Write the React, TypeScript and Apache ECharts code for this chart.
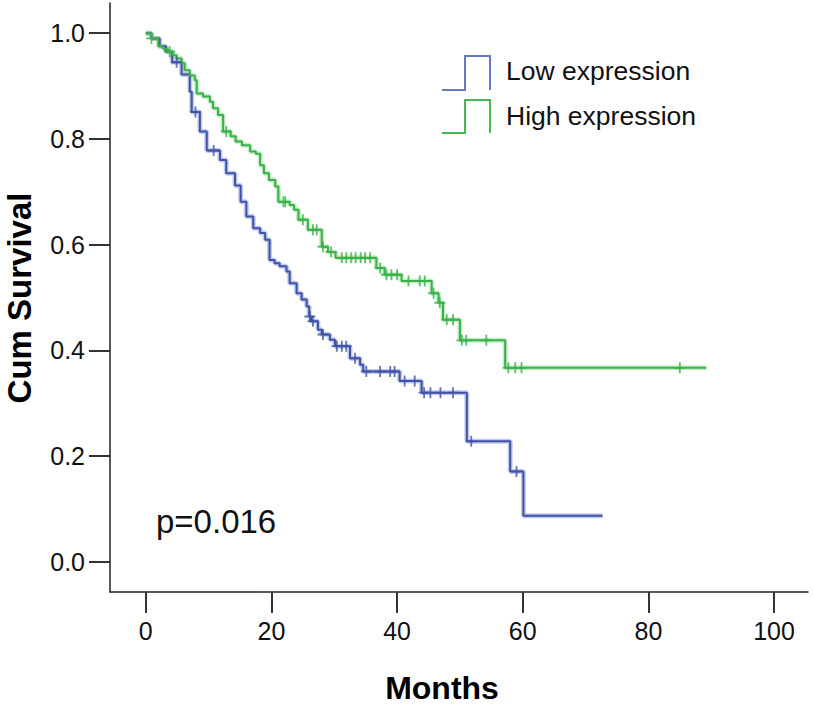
import React, { useEffect, useRef } from "react";
import * as echarts from "echarts";

// Kaplan-Meier step points (time in months, cumulative survival)
const lowTimes = [0, 0.9, 2.2, 3.2, 4.2, 5.7, 7.0, 7.3, 8.6, 9.7, 11.8, 12.8, 14.2, 15.1, 16.0, 17.1, 18.2, 19.0, 19.7, 20.5, 21.3, 22.4, 22.9, 24.0, 24.8, 25.6, 26.0, 26.3, 27.4, 28.0, 29.3, 30.1, 32.5, 34.1, 34.6, 40.4, 43.9, 51.1, 58.0, 60.1, 72.7];
const lowSurv = [1.0, 0.99, 0.975, 0.965, 0.945, 0.922, 0.889, 0.851, 0.814, 0.778, 0.76, 0.735, 0.712, 0.681, 0.653, 0.631, 0.622, 0.609, 0.571, 0.565, 0.559, 0.549, 0.527, 0.508, 0.496, 0.483, 0.464, 0.455, 0.439, 0.43, 0.42, 0.408, 0.385, 0.373, 0.36, 0.342, 0.32, 0.228, 0.171, 0.087, 0.087];
const lowCensored = [4.9, 7.9, 10.8, 26.1, 26.6, 28.2, 30.4, 31.2, 31.9, 33.3, 35.1, 37.3, 38.9, 39.6, 41.2, 42.8, 44.3, 45.3, 46.9, 48.9, 51.8, 59.0];

const highTimes = [0, 0.9, 2.0, 2.8, 3.5, 4.3, 4.9, 5.7, 6.2, 7.0, 7.8, 8.1, 9.1, 10.2, 10.7, 11.5, 12.3, 13.5, 14.3, 15.3, 16.6, 17.5, 18.2, 18.8, 19.6, 20.6, 21.1, 22.9, 23.6, 24.3, 25.8, 28.0, 29.0, 30.2, 36.7, 38.0, 40.7, 45.5, 46.6, 47.3, 50.0, 57.2, 89.2];
const highSurv = [1.0, 0.99, 0.975, 0.97, 0.965, 0.958, 0.952, 0.943, 0.93, 0.92, 0.911, 0.886, 0.88, 0.87, 0.858, 0.845, 0.814, 0.805, 0.795, 0.788, 0.776, 0.772, 0.75, 0.735, 0.722, 0.71, 0.681, 0.675, 0.666, 0.647, 0.628, 0.596, 0.586, 0.575, 0.556, 0.543, 0.531, 0.508, 0.49, 0.458, 0.419, 0.367, 0.367];
const highCensored = [0.9, 3.8, 12.8, 21.9, 22.2, 25.0, 26.6, 27.2, 28.2, 29.5, 31.2, 31.9, 32.7, 33.4, 34.2, 34.9, 35.7, 37.3, 38.3, 39.1, 40.0, 41.8, 43.6, 44.4, 45.8, 46.8, 47.9, 48.9, 50.3, 51.0, 54.2, 57.7, 58.8, 59.8, 85.0];

const xTicks = [0, 20, 40, 60, 80, 100];
const yTicks = [0, 0.2, 0.4, 0.6, 0.8, 1.0];
const groupNames = ["Low expression", "High expression"];
const pValueText = "p=0.016";

const BLUE = "#3e52a6";
const BLUE_HALO = "rgba(120,138,210,0.45)";
const BLUE_LEGEND = "#6678c2";
const GREEN = "#37b246";
const GREEN_HALO = "rgba(120,205,125,0.4)";
const GREEN_LEGEND = "#45b954";

const PLUS = "path://M5,0 L7,0 L7,5 L12,5 L12,7 L7,7 L7,12 L5,12 L5,7 L0,7 L0,5 L5,5 Z";

function pairs(t: number[], s: number[]) {
  return t.map((v, i) => [v, s[i]]);
}
function censorPoints(c: number[], t: number[], s: number[]) {
  return c.map((ct) => {
    let idx = 0;
    for (let i = 0; i < t.length; i++) if (t[i] <= ct) idx = i;
    return [ct, s[idx]];
  });
}

export default function App() {
  const ref = useRef<HTMLDivElement>(null);
  useEffect(() => {
    if (!ref.current) return;
    const chart = echarts.init(ref.current, null, { renderer: "svg" });
    const font = "'Liberation Sans', Arial, Helvetica, sans-serif";
    const lowLine = pairs(lowTimes, lowSurv);
    const highLine = pairs(highTimes, highSurv);
    chart.setOption({
      animation: false,
      backgroundColor: "#ffffff",
      grid: { left: 110, right: 5, top: 3, bottom: 116 },
      xAxis: {
        type: "value",
        min: -5.7,
        max: 105.4,
        axisLine: { show: true, onZero: false, lineStyle: { color: "#222", width: 1.5 } },
        axisTick: { show: true, length: 21, customValues: xTicks, lineStyle: { color: "#333", width: 2 } },
        axisLabel: { customValues: xTicks, margin: 26, fontSize: 25, color: "#111", fontFamily: font },
        splitLine: { show: false },
      },
      yAxis: {
        type: "value",
        min: -0.057,
        max: 1.057,
        axisLine: { show: true, onZero: false, lineStyle: { color: "#222", width: 1.5 } },
        axisTick: { show: true, length: 21, customValues: yTicks, lineStyle: { color: "#333", width: 2 } },
        axisLabel: {
          customValues: yTicks,
          margin: 25,
          fontSize: 25,
          color: "#111",
          fontFamily: font,
          formatter: (v: number) => v.toFixed(1),
        },
        splitLine: { show: false },
      },
      series: [
        { type: "line", step: "end", data: lowLine, symbol: "none", silent: true, lineStyle: { color: BLUE_HALO, width: 5 }, z: 1 },
        { type: "line", step: "end", data: highLine, symbol: "none", silent: true, lineStyle: { color: GREEN_HALO, width: 5 }, z: 1 },
        { name: groupNames[0], type: "line", step: "end", data: lowLine, symbol: "none", lineStyle: { color: BLUE, width: 2 }, z: 3 },
        { name: groupNames[1], type: "line", step: "end", data: highLine, symbol: "none", lineStyle: { color: GREEN, width: 2 }, z: 3 },
        {
          type: "scatter",
          data: censorPoints(lowCensored, lowTimes, lowSurv),
          symbol: PLUS,
          symbolSize: 11,
          itemStyle: { color: BLUE },
          z: 4,
        },
        {
          type: "scatter",
          data: censorPoints(highCensored, highTimes, highSurv),
          symbol: PLUS,
          symbolSize: 11,
          itemStyle: { color: GREEN },
          z: 4,
        },
      ],
      graphic: [
        {
          type: "polyline",
          shape: { points: [[442, 90], [465, 90], [465, 56], [490, 56], [490, 90]] },
          style: { stroke: BLUE_LEGEND, lineWidth: 2, fill: "none" },
        },
        {
          type: "polyline",
          shape: { points: [[442, 133], [465, 133], [465, 100], [490, 100], [490, 133]] },
          style: { stroke: GREEN_LEGEND, lineWidth: 2, fill: "none" },
        },
        {
          type: "text",
          x: 506,
          y: 71,
          style: { text: groupNames[0], fontSize: 26.5, fontFamily: font, fill: "#111", textVerticalAlign: "middle" },
        },
        {
          type: "text",
          x: 506,
          y: 116,
          style: { text: groupNames[1], fontSize: 26.5, fontFamily: font, fill: "#111", textVerticalAlign: "middle" },
        },
        {
          type: "text",
          x: 156,
          y: 521,
          style: { text: pValueText, fontSize: 33, fontFamily: font, fill: "#111", textVerticalAlign: "middle" },
        },
        {
          type: "text",
          x: 442,
          y: 688,
          style: { text: "Months", fontSize: 32, fontWeight: "bold", fontFamily: font, fill: "#000", textAlign: "center", textVerticalAlign: "middle" },
        },
        {
          type: "text",
          x: 19,
          y: 298,
          rotation: Math.PI / 2,
          style: { text: "Cum Survival", fontSize: 33, fontWeight: "bold", fontFamily: font, fill: "#000", textAlign: "center", textVerticalAlign: "middle" },
        },
      ],
    });
    return () => chart.dispose();
  }, []);
  return (
    <div
      ref={ref}
      style={{ position: "fixed", left: 0, top: 0, width: 813, height: 708, background: "#fff" }}
    />
  );
}
